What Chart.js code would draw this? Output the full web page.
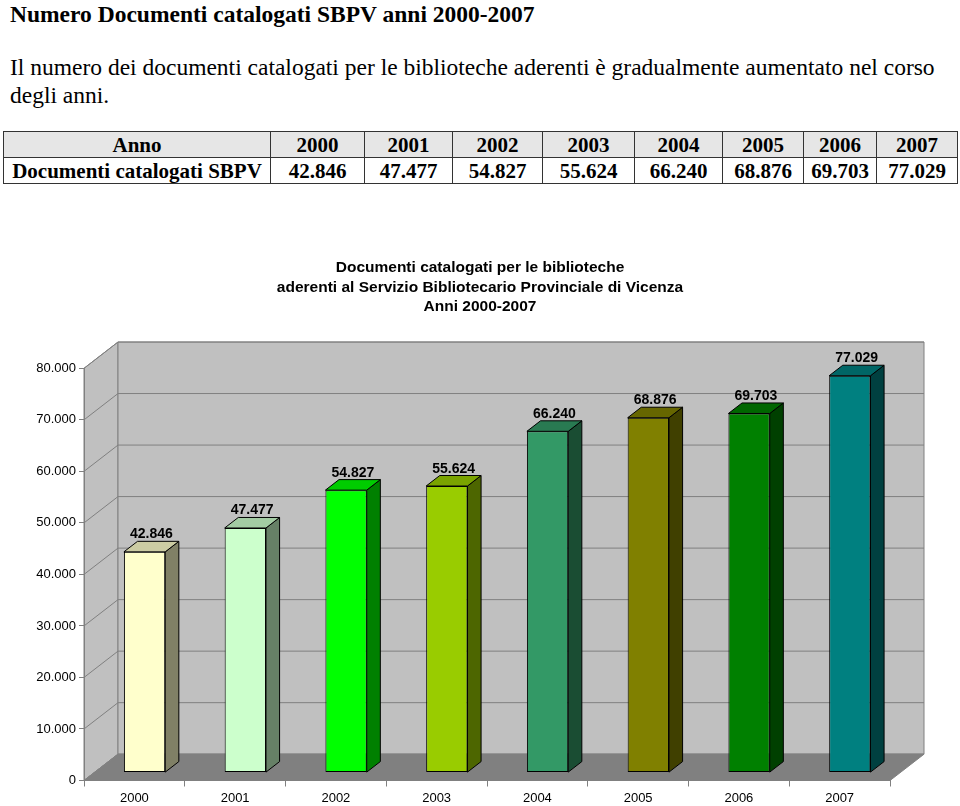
<!DOCTYPE html>
<html lang="it">
<head>
<meta charset="utf-8">
<title>Numero Documenti catalogati SBPV anni 2000-2007</title>
<script src="https://cdn.jsdelivr.net/npm/chart.js@4.4.1/dist/chart.umd.min.js"></script>
<style>
body{margin:0;background:#fff;width:960px;height:806px;position:relative;overflow:hidden;font-family:"Liberation Serif","Times New Roman",serif;color:#000}
.heading{position:absolute;left:10px;top:2px;font-size:23.5px;line-height:24px;font-weight:bold;white-space:nowrap}
.par{position:absolute;left:10px;font-size:23.5px;line-height:23.5px;white-space:nowrap}
table{position:absolute;left:3px;top:131px;border-collapse:collapse;table-layout:fixed}
td{border:1px solid #333;padding:0;height:25px;text-align:center;font-weight:bold;font-size:21px;line-height:24px;white-space:nowrap}
tr.head td{background:#e6e6e6}
#wrap{position:absolute;left:0;top:250px;width:960px;height:556px}
</style>
</head>
<body>
<div class="heading">Numero Documenti catalogati SBPV anni 2000-2007</div>
<div class="par" style="top:56px">Il numero dei documenti catalogati per le biblioteche aderenti è gradualmente aumentato nel corso</div>
<div class="par" style="top:84px">degli anni.</div>
<table id="tab">
<colgroup>
<col style="width:267px"><col style="width:94px"><col style="width:88px"><col style="width:90px"><col style="width:92px"><col style="width:88px"><col style="width:81px"><col style="width:73px"><col style="width:81px">
</colgroup>
<tr class="head" id="rowYears"><td>Anno</td></tr>
<tr id="rowDocs"><td>Documenti catalogati SBPV</td></tr>
</table>
<div id="wrap"><canvas id="myChart" width="960" height="556"></canvas></div>
<script>
const years = ['2000', '2001', '2002', '2003', '2004', '2005', '2006', '2007'];
const documenti = [42846, 47477, 54827, 55624, 66240, 68876, 69703, 77029];
const frontColors = ['#ffffcc', '#ccffcc', '#00ff00', '#99cc00', '#339966', '#808000', '#008000', '#008080'];
const sideColors = ['#808066', '#668066', '#008000', '#4d6600', '#1a4d33', '#404000', '#004000', '#004040'];
const topColors = ['#cccca3', '#a3cca3', '#00cc00', '#7aa300', '#297a52', '#666600', '#006600', '#006666'];
const chartTitle = ['Documenti catalogati per le biblioteche', 'aderenti al Servizio Bibliotecario Provinciale di Vicenza', 'Anni 2000-2007'];

// depth of the 3d box
const depthX = 34;
const depthY = -26.3;

function fmt(v) {
    return v.toString().replace(/\B(?=(\d{3})+(?!\d))/g, '.');
}

// fill the table
const rowYears = document.getElementById('rowYears');
const rowDocs = document.getElementById('rowDocs');
years.forEach((y, i) => {
    const a = document.createElement('td');
    a.textContent = y;
    rowYears.appendChild(a);
    const b = document.createElement('td');
    b.textContent = fmt(documenti[i]);
    rowDocs.appendChild(b);
});

function poly(ctx, pts, fill, stroke) {
    ctx.beginPath();
    ctx.moveTo(pts[0][0], pts[0][1]);
    for (let i = 1; i < pts.length; i++) ctx.lineTo(pts[i][0], pts[i][1]);
    ctx.closePath();
    ctx.fillStyle = fill;
    ctx.fill();
    if (stroke) {
        ctx.strokeStyle = stroke;
        ctx.stroke();
    }
}

const box3d = {
    id: 'box3d',
    beforeDraw(chart) {
        const {ctx, chartArea: a, scales: {y}} = chart;
        ctx.save();
        ctx.lineWidth = 1;
        poly(ctx, [[a.left, a.top], [a.left + depthX, a.top + depthY], [a.left + depthX, a.bottom + depthY], [a.left, a.bottom]], '#c0c0c0', '#808080');
        poly(ctx, [[a.left + depthX, a.top + depthY], [a.right + depthX, a.top + depthY], [a.right + depthX, a.bottom + depthY], [a.left + depthX, a.bottom + depthY]], '#c0c0c0', '#808080');
        poly(ctx, [[a.left, a.bottom], [a.right, a.bottom], [a.right + depthX, a.bottom + depthY], [a.left + depthX, a.bottom + depthY]], '#808080', '#808080');
        ctx.strokeStyle = '#808080';
        y.ticks.forEach(t => {
            const py = y.getPixelForValue(t.value);
            ctx.beginPath();
            ctx.moveTo(a.left, py);
            ctx.lineTo(a.left + depthX, py + depthY);
            ctx.lineTo(a.right + depthX, py + depthY);
            ctx.stroke();
        });
        ctx.restore();
    },
    beforeDatasetsDraw(chart) {
        // bars stand in the middle of the depth
        chart.ctx.save();
        chart.ctx.translate(depthX * 0.3, depthY * 0.3);
    },
    afterDatasetsDraw(chart) {
        const ctx = chart.ctx;
        const meta = chart.getDatasetMeta(0);
        const bx = depthX * 0.4, by = depthY * 0.4;
        ctx.lineWidth = 1;
        meta.data.forEach((bar, i) => {
            const {x, y, width, base} = bar.getProps(['x', 'y', 'width', 'base'], true);
            const l = x - width / 2, r = x + width / 2;
            poly(ctx, [[r, y], [r + bx, y + by], [r + bx, base + by], [r, base]], sideColors[i], '#000');
            poly(ctx, [[l, y], [l + bx, y + by], [r + bx, y + by], [r, y]], topColors[i], '#000');
        });
        ctx.restore();
        ctx.save();
        ctx.font = 'bold 14px "Liberation Sans", Arial, sans-serif';
        ctx.fillStyle = '#000';
        ctx.textAlign = 'center';
        ctx.textBaseline = 'alphabetic';
        meta.data.forEach((bar, i) => {
            const cx = bar.x + depthX * 0.3 + bx / 2;
            const cy = bar.y + depthY * 0.3 + by - 3;
            ctx.fillText(fmt(documenti[i]), cx, cy);
        });
        ctx.restore();
    }
};

new Chart(document.getElementById('myChart'), {
    type: 'bar',
    data: {
        labels: years,
        datasets: [{
            label: 'Documenti catalogati SBPV',
            data: documenti,
            backgroundColor: frontColors,
            borderColor: '#000',
            borderWidth: 1,
            borderSkipped: false,
            barPercentage: 1,
            categoryPercentage: 0.41,
            clip: false
        }]
    },
    options: {
        responsive: false,
        animation: false,
        events: [],
        layout: {padding: 0},
        plugins: {
            legend: {display: false},
            tooltip: {enabled: false},
            title: {
                display: true,
                text: chartTitle,
                color: '#000',
                font: {family: '"Liberation Sans", Arial, sans-serif', size: 15.5, weight: 'bold', lineHeight: 1.265},
                padding: {top: 8, bottom: 51.5}
            }
        },
        scales: {
            x: {
                afterFit(scale) { scale.height = 25.5; },
                grid: {offset: true, drawOnChartArea: false, color: '#808080', tickLength: 6},
                border: {color: '#808080'},
                ticks: {color: '#000', padding: 4, font: {family: '"Liberation Sans", Arial, sans-serif', size: 13}}
            },
            y: {
                min: 0,
                max: 80000,
                afterFit(scale) { scale.width = 84; },
                grid: {drawOnChartArea: false, color: '#808080', tickLength: 5},
                border: {color: '#808080'},
                ticks: {
                    stepSize: 10000,
                    color: '#000',
                    padding: 3,
                    font: {family: '"Liberation Sans", Arial, sans-serif', size: 13},
                    callback: v => fmt(v)
                }
            },
            // empty space on the right for the depth of the box
            yRight: {
                position: 'right',
                min: 0,
                max: 80000,
                afterFit(scale) { scale.width = 70; },
                grid: {display: false},
                border: {display: false},
                ticks: {display: false}
            }
        }
    },
    plugins: [box3d]
});
</script>
</body>
</html>
